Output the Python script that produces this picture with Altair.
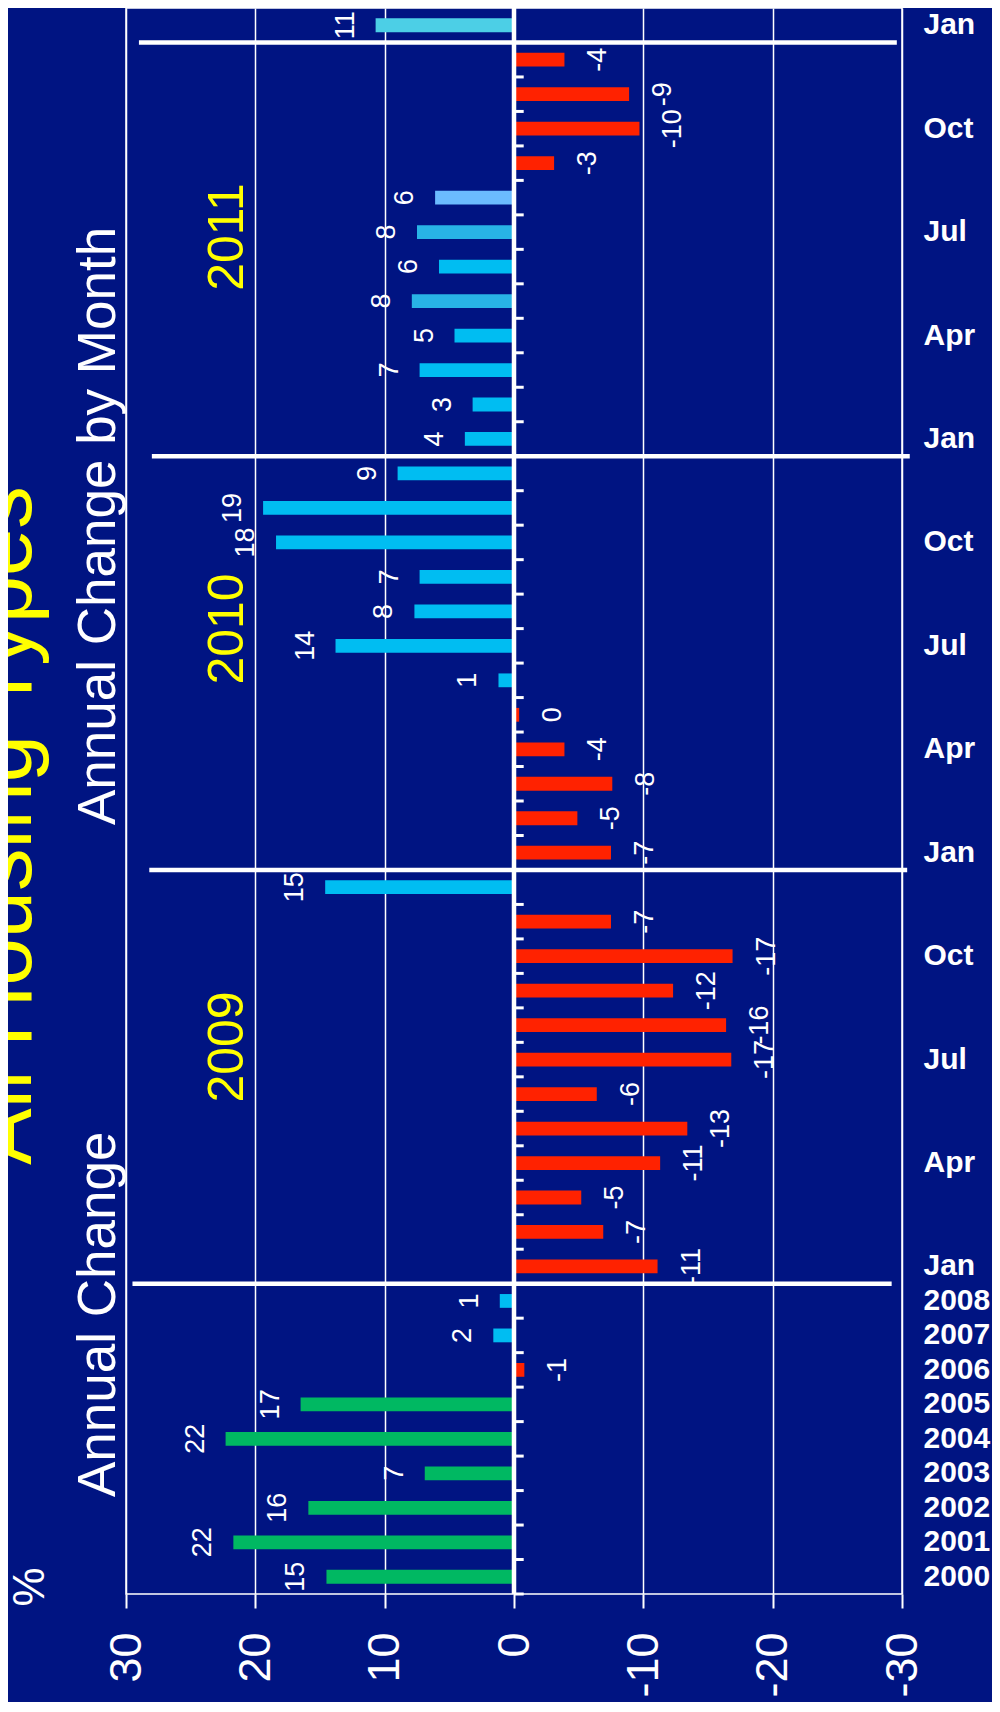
import altair as alt
import pandas as pd

FONT = "Liberation Sans"

years = ["2000", "2001", "2002", "2003", "2004", "2005", "2006", "2007", "2008"]
months = ["Jan", "Feb", "Mar", "Apr", "May", "Jun", "Jul", "Aug", "Sep", "Oct", "Nov", "Dec"]
periods = years + [f"{y} {m}" for y in (2009, 2010, 2011) for m in months] + ["2012 Jan"]

values = [14.5, 21.7, 15.9, 6.9, 22.3, 16.5, -0.8, 1.6, 1.1,
          -11.1, -6.9, -5.2, -11.3, -13.4, -6.4, -16.8, -16.4, -12.3, -16.9, -7.5, 14.6,
          -7.5, -4.9, -7.6, -3.9, -0.4, 1.2, 13.8, 7.7, 7.3, 18.4, 19.4, 9.0,
          3.8, 3.2, 7.3, 4.6, 7.9, 5.8, 7.5, 6.1, -3.1, -9.7, -8.9, -3.9,
          10.7]
labels = [15, 22, 16, 7, 22, 17, -1, 2, 1,
          -11, -7, -5, -11, -13, -6, -17, -16, -12, -17, -7, 15,
          -7, -5, -8, -4, 0, 1, 14, 8, 7, 18, 19, 9,
          4, 3, 7, 5, 8, 6, 8, 6, -3, -10, -9, -4,
          11]
groups = (["boom"] * 6 + ["fall", "rise", "rise"]
          + ["fall"] * 11 + ["rise"]
          + ["fall"] * 5 + ["rise"] * 7
          + ["rise"] * 4 + ["rise2", "rise", "rise2", "rise3"] + ["fall"] * 4
          + ["rise4"])
group_names = ["boom", "fall", "rise", "rise2", "rise3", "rise4"]
group_colors = ["#00B862", "#FF2200", "#00BDF2", "#28B4E6", "#6BBBFF", "#4CCFE6"]

shown_labels = years + [f"{y} {m}" for y in (2009, 2010, 2011) for m in ("Jan", "Apr", "Jul", "Oct")] + ["2012 Jan"]
x_ticks = [30, 20, 10, 0, -10, -20, -30]

sep_keys = ["2009 Jan", "2010 Jan", "2011 Jan", "2012 Jan"]
sep_from = [29.5, 28.2, 28.0, 29.0]
sep_to = [-29.2, -30.4, -30.6, -29.6]

df = pd.DataFrame({"period": periods, "value": values,
                   "label": [str(v) for v in labels], "group": groups})
df_sep = pd.DataFrame({"period": sep_keys, "x1": sep_from, "x2": sep_to})
one = pd.DataFrame({"k": [0]})

W, H = 776, 1586
order = list(reversed(periods))
yscale = alt.Scale(domain=order, paddingInner=0, paddingOuter=0)
xscale = alt.Scale(domain=[-30, 30], reverse=True, nice=False)

bars = alt.Chart(df).mark_bar(height=alt.RelativeBandSize(band=0.4)).encode(
    y=alt.Y("period:N", scale=yscale, axis=alt.Axis(
        orient="right", values=shown_labels,
        labelExpr="length(datum.label) > 4 ? substring(datum.label, 5) : datum.label",
        title=None)),
    x=alt.X("value:Q", scale=xscale, axis=alt.Axis(
        values=x_ticks, labelExpr="'' + datum.value", title=None)),
    color=alt.Color("group:N", scale=alt.Scale(domain=group_names, range=group_colors), legend=None),
)

zero = alt.Chart(one).mark_rule(color="white", strokeWidth=4.5).encode(
    x=alt.XDatum(0, scale=xscale))

ticks = alt.Chart(df).mark_rule(color="white", strokeWidth=3).encode(
    y=alt.Y("period:N", scale=yscale, bandPosition=1),
    x=alt.XDatum(0, scale=xscale),
    x2=alt.X2Datum(-0.75))

seps = alt.Chart(df_sep).mark_rule(color="white", strokeWidth=4.5).encode(
    y=alt.Y("period:N", scale=yscale, bandPosition=1),
    x=alt.X("x1:Q", scale=xscale),
    x2="x2:Q")

pos_lab = alt.Chart(df).transform_filter("datum.value > 0").mark_text(
    angle=270, align="center", baseline="alphabetic", dy=-22,
    fontSize=27, color="white", font=FONT).encode(
    y=alt.Y("period:N", scale=yscale),
    x=alt.X("value:Q", scale=xscale),
    text="label:N")

neg_lab = alt.Chart(df).transform_filter("datum.value < 0").mark_text(
    angle=270, align="center", baseline="top", dy=21,
    fontSize=27, color="white", font=FONT).encode(
    y=alt.Y("period:N", scale=yscale),
    x=alt.X("value:Q", scale=xscale),
    text="label:N")


def note(text, x, y, size, color, align="left", baseline="alphabetic"):
    return alt.Chart(pd.DataFrame({"t": [text]})).mark_text(
        angle=270, align=align, baseline=baseline, fontSize=size,
        color=color, font=FONT).encode(x=alt.value(x), y=alt.value(y), text="t:N")


notes = [
    note("All Housing Types", -95, 1157, 85, "#FFFF00"),
    note("Annual Change", -11, 1489, 53, "white"),
    note("Annual Change by Month", -11, 817, 53, "white"),
    note("%", -95, 1579, 44, "white", align="center", baseline="middle"),
    note("2011", 117, 229, 50, "#FFFF00", align="center"),
    note("2010", 117, 621, 50, "#FFFF00", align="center"),
    note("2009", 117, 1039, 50, "#FFFF00", align="center"),
]

chart = alt.layer(bars, zero, ticks, seps, pos_lab, neg_lab, *notes).properties(
    width=W, height=H,
    background="#001482",
    padding={"left": 118, "top": 0, "right": 90, "bottom": 108},
    autosize=alt.AutoSizeParams(type="none"),
).configure_view(stroke="white", strokeWidth=1.5).configure_axisX(
    labelAngle=270, labelAlign="right", labelBaseline="middle",
    labelFont=FONT, labelFontSize=45, labelColor="white", labelPadding=24,
    tickSize=14, tickColor="white", tickWidth=2, domain=False, grid=True,
    gridColor="white", gridWidth=1.5, gridOpacity=1, labelOverlap=False,
).configure_axisY(
    ticks=False, domain=False, grid=False, labelFont=FONT, labelFontSize=30,
    labelFontWeight="bold", labelColor="white", labelPadding=21,
    labelAlign="left", labelBaseline="middle", labelOverlap=False,
)

chart.save("out.html", embed_options={"renderer": "svg", "actions": False})
